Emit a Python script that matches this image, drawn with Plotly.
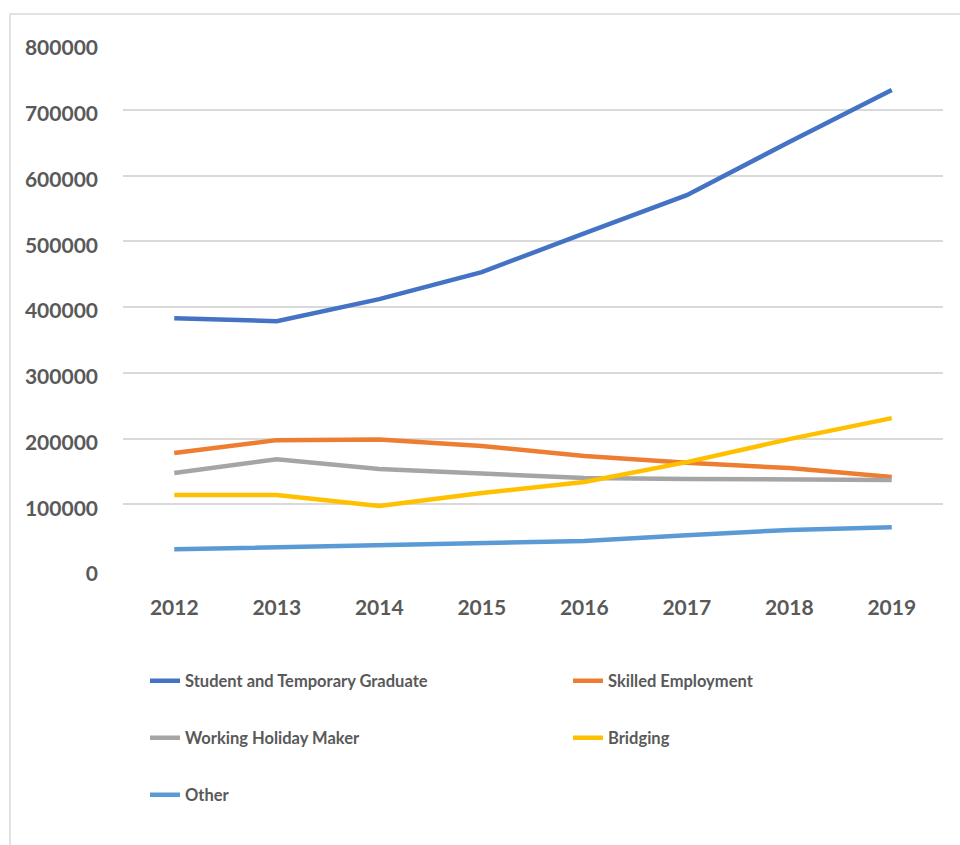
import plotly.graph_objects as go

years = ["2012", "2013", "2014", "2015", "2016", "2017", "2018", "2019"]
student = [383000, 378500, 412000, 453000, 512000, 570000, 651000, 730000]
skilled = [178000, 197500, 198500, 188500, 173500, 163000, 155000, 141500]
whm = [147500, 168500, 153500, 146000, 140000, 138500, 138000, 137000]
bridging = [114000, 114000, 97500, 117000, 134000, 164000, 199000, 231000]
other = [31500, 34500, 36500, 39500, 44000, 53000, 61000, 65000]

# name, values, colour, legend id, legend position (line start x, row centre y) in page px
series = [
    ("Student and Temporary Graduate", student, "#4472C4", "legend", 150, 681),
    ("Skilled Employment", skilled, "#ED7D31", "legend2", 573, 681),
    ("Working Holiday Maker", whm, "#A5A5A5", "legend3", 150, 738),
    ("Bridging", bridging, "#FFC000", "legend4", 573, 738),
    ("Other", other, "#5B9BD5", "legend5", 150, 795),
]

FONT = "Lato"
TXT = "#595959"

W, H = 960, 845
L, T = 123, 44
R = W - 943
B = H - 570
pw = W - L - R
ph = H - T - B


def px2x(p):
    return (p - L) / pw


def py2y(p):
    return (H - B - p) / ph


fig = go.Figure()
layout_legends = {}
for name, vals, color, lg, lx, ly in series:
    fig.add_trace(go.Scatter(x=years, y=vals, name=name, mode="lines",
                             line=dict(color=color, width=4.5), legend=lg))
    layout_legends[lg] = dict(
        orientation="h", xanchor="left", yanchor="middle",
        x=px2x(lx - 5), y=py2y(ly),
        font=dict(family=FONT, size=16.5, color=TXT, weight="bold"),
        bgcolor="rgba(0,0,0,0)", borderwidth=0,
        itemclick=False, itemdoubleclick=False)

fig.update_layout(
    width=W, height=H,
    margin=dict(l=L, r=R, t=T, b=B),
    paper_bgcolor="white", plot_bgcolor="white",
    font=dict(family=FONT, color=TXT),
    showlegend=True,
    xaxis=dict(type="category", range=[-0.5, 7.5], showgrid=False,
               showline=False, zeroline=False, ticks="",
               ticklabelstandoff=23,
               tickfont=dict(family=FONT, size=21, color=TXT, weight="bold")),
    yaxis=dict(range=[0, 800000], dtick=100000, tickformat="d",
               showgrid=True, gridcolor="#D9D9D9", gridwidth=1.5,
               zeroline=False, showline=False, ticks="",
               ticklabelstandoff=24, ticklabelshift=4,
               tickfont=dict(family=FONT, size=21, color=TXT, weight="bold")),
    shapes=[dict(type="rect", xref="paper", yref="paper",
                 x0=px2x(10), x1=px2x(1000), y0=py2y(900), y1=py2y(14),
                 line=dict(color="#D9D9D9", width=1.5), fillcolor="rgba(0,0,0,0)",
                 layer="below")],
    **layout_legends,
)

fig.write_html("out.html",
               config={"displayModeBar": False},
               post_script="document.body.style.margin='0';document.body.style.overflow='hidden';")
